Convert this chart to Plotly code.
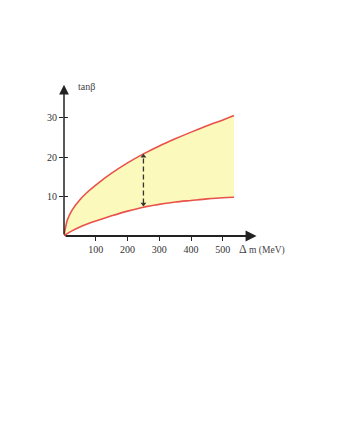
import plotly.graph_objects as go

# Values
dm = [0, 10, 25, 50, 75, 100, 150, 200, 250, 300, 350, 400, 450, 500, 535]
tanb_upper = [0, 3.9, 6.5, 9.2, 11.2, 12.9, 15.9, 18.5, 20.8, 22.8, 24.6, 26.3, 27.9, 29.4, 30.5]
tanb_lower = [0, 0.6, 1.3, 2.3, 3.1, 3.8, 5.1, 6.3, 7.3, 8.0, 8.6, 9.0, 9.4, 9.7, 9.8]

x_ticks = [100, 200, 300, 400, 500]
y_ticks = [10, 20, 30]

arrow_x = 250
arrow_lo = 7.6
arrow_hi = 20.7

x_max = 606
y_max = 38.3

RED = "#e8524a"
FILL = "#fbf9bb"
AX = "#222222"
FONT = "Liberation Serif"

fig = go.Figure()

fig.add_trace(go.Scatter(x=dm, y=tanb_lower, mode="lines",
                         line=dict(color=RED, width=1.6, shape="spline", smoothing=0.8),
                         hoverinfo="skip"))
fig.add_trace(go.Scatter(x=dm, y=tanb_upper, mode="lines", fill="tonexty",
                         fillcolor=FILL,
                         line=dict(color=RED, width=1.6, shape="spline", smoothing=0.8),
                         hoverinfo="skip"))

# dashed double arrow
fig.add_trace(go.Scatter(x=[arrow_x, arrow_x], y=[arrow_lo + 0.6, arrow_hi - 0.6], mode="lines",
                         line=dict(color="#333333", width=1.3, dash="5px,3px"),
                         hoverinfo="skip"))
fig.add_trace(go.Scatter(x=[arrow_x, arrow_x], y=[arrow_hi - 0.5, arrow_lo + 0.5], mode="markers",
                         marker=dict(symbol=["triangle-up", "triangle-down"], size=5,
                                     color="#333333"),
                         hoverinfo="skip"))

# axes with arrowheads
fig.add_annotation(x=x_max, y=0, ax=0, ay=0, axref="x", ayref="y", xref="x", yref="y",
                   showarrow=True, arrowhead=2, arrowsize=1.1, arrowwidth=2,
                   arrowcolor=AX, text="")
fig.add_annotation(x=0, y=y_max, ax=0, ay=0, axref="x", ayref="y", xref="x", yref="y",
                   showarrow=True, arrowhead=2, arrowsize=1.3, arrowwidth=1.5,
                   arrowcolor=AX, text="")

fig.add_annotation(x=38, y=y_max - 0.4, xref="x", yref="y", text="tanβ",
                   showarrow=False, xanchor="left", yanchor="middle",
                   font=dict(family=FONT, size=10, color="#444444"))
fig.add_annotation(x=546, y=0, xref="x", yref="y",
                   text="<span style='font-size:12px'>Δ</span> m (MeV)",
                   showarrow=False, xanchor="left", yanchor="middle", yshift=-13,
                   font=dict(family=FONT, size=9.5, color="#444444"))

fig.update_layout(
    width=345, height=446,
    margin=dict(l=56, r=92, t=72, b=218),
    paper_bgcolor="white", plot_bgcolor="white",
    showlegend=False,
    xaxis=dict(range=[0, 620], tickvals=x_ticks, ticks="outside", ticklen=4,
               tickwidth=1.3, tickcolor=AX, showgrid=False, zeroline=False,
               showline=False,
               tickfont=dict(family=FONT, size=10, color="#333333")),
    yaxis=dict(range=[0, 39.5], tickvals=y_ticks, ticks="outside", ticklen=4,
               tickwidth=1.3, tickcolor=AX, showgrid=False, zeroline=False,
               showline=False,
               tickfont=dict(family=FONT, size=10, color="#333333")),
    yaxis2=dict(range=[0, 39.5], tickvals=y_ticks, ticks="inside", ticklen=4,
                tickwidth=1.3, tickcolor=AX, showgrid=False, zeroline=False,
                showticklabels=False, overlaying="y", side="left", anchor="x"),
)
# invisible trace to activate yaxis2
fig.add_trace(go.Scatter(x=[0], y=[0], yaxis="y2", mode="markers",
                         marker=dict(opacity=0), hoverinfo="skip"))

fig.write_html("out.html")
